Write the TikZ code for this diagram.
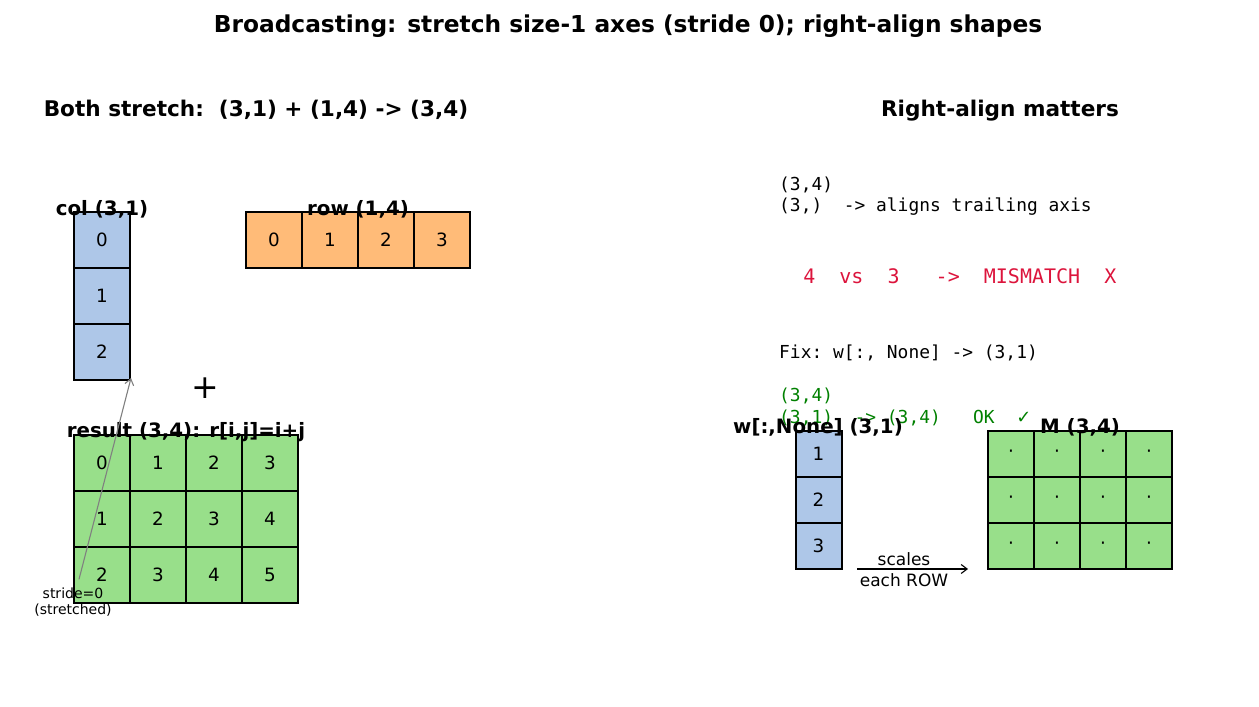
\documentclass[tikz,border=0pt]{standalone}
\usepackage{fontspec}
\setmainfont{DejaVu Sans}
\setmonofont{DejaVu Sans Mono}
\usetikzlibrary{arrows.meta}

\definecolor{colblue}{HTML}{AEC7E8}
\definecolor{roworange}{HTML}{FFBB78}
\definecolor{resgreen}{HTML}{98DF8A}
\definecolor{badred}{RGB}{220,20,60}
\definecolor{okgreen}{RGB}{0,128,0}

\begin{document}
\begin{tikzpicture}[
  x=1pt, y=-1pt,
  >={Straight Barb[length=6pt, width=9pt]},
  every node/.style={inner sep=0pt},
  bigcell/.style={draw, line width=2pt, minimum size=56pt,
    font=\fontsize{18.3}{22}\selectfont},
  smallcell/.style={draw, line width=2pt, minimum size=46pt,
    font=\fontsize{18.3}{22}\selectfont},
  heading/.style={anchor=base, font=\fontsize{21.6}{26}\selectfont\bfseries},
  lbl/.style={anchor=base, font=\fontsize{19.8}{24}\selectfont\bfseries},
  mono/.style={anchor=base west, font=\fontsize{17.9}{21}\selectfont\ttfamily},
]
\useasboundingbox (0,0) rectangle (1259,707);

% ── Title and panel headings ─────────────────────────────────────────────────
\node[anchor=base, font=\fontsize{23.3}{28}\selectfont\bfseries] (title) at (628,32)
  {Broadcasting: stretch size-1 axes (stride 0); right-align shapes};
\node[heading] (headL) at (256,116) {Both stretch:\ \ (3,1) + (1,4) -> (3,4)};
\node[heading] (headR) at (1000,116) {Right-align matters};

% ── Left panel: column vector (3,1) ─────────────────────────────────────────
\node[bigcell, fill=colblue] (c0) at (102,240) {0};
\node[bigcell, fill=colblue] (c1) at (102,296) {1};
\node[bigcell, fill=colblue] (c2) at (102,352) {2};
\node[lbl] (colLbl) at (102,215) {col (3,1)};

% Row vector (1,4)
\node[bigcell, fill=roworange] (r0) at (274,240) {0};
\node[bigcell, fill=roworange] (r1) at (330,240) {1};
\node[bigcell, fill=roworange] (r2) at (386,240) {2};
\node[bigcell, fill=roworange] (r3) at (442,240) {3};
\node[lbl] (rowLbl) at (358,215) {row (1,4)};

% Plus sign between operands
\node[font=\fontsize{33}{40}\selectfont] (plus) at (205,388) {+};

% Result (3,4): r[i,j] = i+j
\node[bigcell, fill=resgreen] (s00) at (102,463) {0};
\node[bigcell, fill=resgreen] (s01) at (158,463) {1};
\node[bigcell, fill=resgreen] (s02) at (214,463) {2};
\node[bigcell, fill=resgreen] (s03) at (270,463) {3};
\node[bigcell, fill=resgreen] (s10) at (102,519) {1};
\node[bigcell, fill=resgreen] (s11) at (158,519) {2};
\node[bigcell, fill=resgreen] (s12) at (214,519) {3};
\node[bigcell, fill=resgreen] (s13) at (270,519) {4};
\node[bigcell, fill=resgreen] (s20) at (102,575) {2};
\node[bigcell, fill=resgreen] (s21) at (158,575) {3};
\node[bigcell, fill=resgreen] (s22) at (214,575) {4};
\node[bigcell, fill=resgreen] (s23) at (270,575) {5};
\node[lbl] (resLbl) at (186,437) {result (3,4): r[i,j]=i+j};

% Stride annotation, pointing at the stretched column
\node[align=center, font=\fontsize{14}{16.5}\selectfont] (stride) at (73,602)
  {stride=0\\(stretched)};
\draw[->, gray, line width=1.1pt] ([xshift=6pt, yshift=8pt]stride.north) -- ([yshift=3pt]c2.south east);

% ── Right panel: trailing-axis alignment ────────────────────────────────────
\node[mono] (shpA) at (779,190) {(3,4)};
\node[mono] (shpB) at (779,211) {(3,)~~->~aligns~trailing~axis};
\node[mono, badred, font=\fontsize{20}{24}\selectfont\ttfamily] (bad) at (779,283)
  {~~4~~vs~~3~~~->~~MISMATCH~~X};
\node[mono] (fix) at (779,358) {Fix:~w[:,~None]~->~(3,1)};
\node[mono, okgreen] (okA) at (779,401) {(3,4)};
\node[mono, okgreen] (okB) at (779,423) {(3,1)~~->~(3,4)~~~OK~~{\rmfamily ✓}};

% w[:,None] column (3,1)
\node[smallcell, fill=colblue] (w0) at (818.5,454) {1};
\node[smallcell, fill=colblue] (w1) at (818.5,500) {2};
\node[smallcell, fill=colblue] (w2) at (818.5,546) {3};
\node[lbl] (wLbl) at (818,433) {w[:,None] (3,1)};

% M (3,4)
\node[smallcell, fill=resgreen] (m00) at (1011,454) {·};
\node[smallcell, fill=resgreen] (m01) at (1057,454) {·};
\node[smallcell, fill=resgreen] (m02) at (1103,454) {·};
\node[smallcell, fill=resgreen] (m03) at (1149,454) {·};
\node[smallcell, fill=resgreen] (m10) at (1011,500) {·};
\node[smallcell, fill=resgreen] (m11) at (1057,500) {·};
\node[smallcell, fill=resgreen] (m12) at (1103,500) {·};
\node[smallcell, fill=resgreen] (m13) at (1149,500) {·};
\node[smallcell, fill=resgreen] (m20) at (1011,546) {·};
\node[smallcell, fill=resgreen] (m21) at (1057,546) {·};
\node[smallcell, fill=resgreen] (m22) at (1103,546) {·};
\node[smallcell, fill=resgreen] (m23) at (1149,546) {·};
\node[lbl] (mLbl) at (1080,433) {M (3,4)};

% Scaling arrow w -> M
\coordinate (scFrom) at (857,569);
\coordinate (scTo) at (968,569);
\draw[->, line width=1.1pt] (scFrom) -- (scTo);
\node[align=center, font=\fontsize{17}{21}\selectfont] (scLbl) at (904,570)
  {scales\\each ROW};

\end{tikzpicture}
\end{document}
